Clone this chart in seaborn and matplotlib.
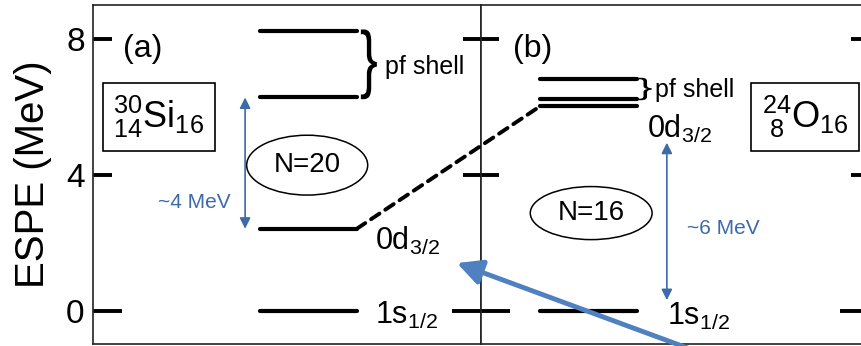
import matplotlib
matplotlib.use("Agg")
import matplotlib.pyplot as plt
from matplotlib.patches import Ellipse, ConnectionPatch, PathPatch
from matplotlib.textpath import TextPath
from matplotlib.font_manager import FontProperties
from matplotlib.transforms import Affine2D, ScaledTranslation
import pandas as pd
import seaborn as sns

# single-particle energies (MeV)
si_levels = [0.0, 2.42, 6.28, 8.23]        # 1s1/2, 0d3/2, pf, pf  (30Si)
o_levels = [0.0, 6.02, 6.25, 6.81]         # 1s1/2, 0d3/2, pf, pf  (24O)
si_span = (0.43, 0.68)
o_span = (0.152, 0.402)
yticks = [0, 4, 8]

blue_thin = "#3d6aa8"
blue_big = "#4f80c0"


def level_frame(levels, span):
    rows = []
    for i, e in enumerate(levels):
        rows.append({"x": span[0], "E": e, "lvl": i})
        rows.append({"x": span[1], "E": e, "lvl": i})
    return pd.DataFrame(rows)


def brace(ax, x, lo, hi, width_px):
    # stretched "}" glyph spanning the energies lo..hi
    tp = TextPath((0, 0), "}", size=1, prop=FontProperties(family="Liberation Sans"))
    bb = tp.get_extents()
    y0 = ax.transData.transform((0, lo))[1]
    y1 = ax.transData.transform((0, hi))[1]
    dpi = fig.dpi
    tr = (Affine2D().translate(-(bb.x0 + bb.x1) / 2, -(bb.y0 + bb.y1) / 2)
          .scale(width_px / dpi / bb.width, (y1 - y0) / dpi / bb.height)
          + fig.dpi_scale_trans
          + ScaledTranslation(x, (lo + hi) / 2, ax.transData))
    fig.add_artist(PathPatch(tp, transform=tr, fc="black", ec="none"))


sns.set_theme(style="ticks")
plt.rcParams["font.family"] = ["Liberation Sans", "DejaVu Sans"]
plt.rcParams["mathtext.fontset"] = "custom"
plt.rcParams["mathtext.rm"] = "Liberation Sans"
plt.rcParams["mathtext.it"] = "Liberation Sans:italic"
plt.rcParams["mathtext.bf"] = "Liberation Sans:bold"
plt.rcParams["text.color"] = "black"
plt.rcParams["axes.labelcolor"] = "black"
plt.rcParams["ytick.color"] = "black"
plt.rcParams["xtick.color"] = "black"

fig = plt.figure(figsize=(8.61, 3.46), dpi=100)
W, H = 861.0, 346.0
ax1 = fig.add_axes([93 / W, 2 / H, 388 / W, 339 / H])
ax2 = fig.add_axes([481 / W, 2 / H, 388 / W, 339 / H], sharey=ax1)

for ax, levels, span in [(ax1, si_levels, si_span), (ax2, o_levels, o_span)]:
    sns.lineplot(data=level_frame(levels, span), x="x", y="E", units="lvl",
                 estimator=None, color="black", lw=3, ax=ax, legend=False)
    ax.set_xlim(0, 1)
    ax.set_xticks([])
    ax.set_xlabel("")
    for s in ax.spines.values():
        s.set_linewidth(1.2)
        s.set_color("#222222")

ax1.set_ylim(-0.97, 9.0)
ax1.set_yticks(yticks)
ax1.tick_params(axis="y", direction="in", length=13.7, width=2.8, labelsize=24,
                pad=6, color="black")
ax1.set_ylabel("ESPE (MeV)", fontsize=29, labelpad=10)
ax2.set_ylabel("")
ax2.tick_params(axis="y", direction="inout", length=26.6, width=2.8,
                left=True, right=True, labelleft=False, color="black")

# labels, panel (a)
ax1.text(0.077, 7.7, "(a)", fontsize=23, va="center", ha="left")
ax1.text(0.17, 5.7, r"${}^{30}_{14}\mathrm{Si}_{16}$", fontsize=26,
         ha="center", va="center",
         bbox=dict(boxstyle="square,pad=0.3", fc="white", ec="black", lw=1.2))
ax1.add_patch(Ellipse((0.552, 4.29), 0.312, 1.76, fc="none", ec="black", lw=1.1))
ax1.text(0.552, 4.29, "N=20", fontsize=20, ha="center", va="center")
brace(ax1, 0.711, si_levels[2] - 0.05, si_levels[3] + 0.05, 16)
ax1.text(0.753, 7.18, "pf shell", fontsize=18, ha="left", va="center")
ax1.text(0.727, 1.79, r"0d$_{3/2}$", fontsize=22, ha="left", va="baseline")
ax1.text(0.727, -0.38, r"1s$_{1/2}$", fontsize=22, ha="left", va="baseline")
ax1.annotate("", xy=(0.392, si_levels[1]), xytext=(0.392, si_levels[2]),
             arrowprops=dict(arrowstyle="<|-|>", color=blue_thin, lw=1.2,
                             mutation_scale=16, shrinkA=0, shrinkB=0))
ax1.text(0.355, 3.18, "~4 MeV", fontsize=15, color=blue_thin,
         ha="right", va="center")

# labels, panel (b)
ax2.text(0.082, 7.7, "(b)", fontsize=23, va="center", ha="left")
ax2.text(0.835, 5.7, r"${}^{24}_{\ 8}\mathrm{O}_{16}$", fontsize=26,
         ha="center", va="center",
         bbox=dict(boxstyle="square,pad=0.3", fc="white", ec="black", lw=1.2))
ax2.add_patch(Ellipse((0.284, 2.88), 0.314, 1.56, fc="none", ec="black", lw=1.1))
ax2.text(0.284, 2.88, "N=16", fontsize=20, ha="center", va="center")
brace(ax2, 0.423, o_levels[2] - 0.05, o_levels[3] + 0.05, 13)
ax2.text(0.448, 6.5, "pf shell", fontsize=18, ha="left", va="center")
ax2.text(0.428, 5.09, r"0d$_{3/2}$", fontsize=22, ha="left", va="baseline")
ax2.text(0.479, -0.41, r"1s$_{1/2}$", fontsize=22, ha="left", va="baseline")
ax2.annotate("", xy=(0.479, 0.32), xytext=(0.479, 4.95),
             arrowprops=dict(arrowstyle="<|-|>", color=blue_thin, lw=1.2,
                             mutation_scale=16, shrinkA=0, shrinkB=0))
ax2.text(0.531, 2.44, "~6 MeV", fontsize=15, color=blue_thin,
         ha="left", va="center")

# dashed connection of the 0d3/2 levels
con = ConnectionPatch(xyA=(si_span[1], si_levels[1]), coordsA=ax1.transData,
                      xyB=(o_span[0], o_levels[1]), coordsB=ax2.transData,
                      color="black", lw=2.8, linestyle=(0, (2.6, 1.8)))
fig.add_artist(con)

# big blue arrow pointing to the 0d3/2 label
big = ax2.annotate("", xy=(0.938, 1.41), xycoords=ax1.transData,
                   xytext=(0.616, -1.44), textcoords=ax2.transData,
                   annotation_clip=False,
                   arrowprops=dict(arrowstyle="-|>,head_length=0.75,head_width=0.38",
                                   color=blue_big, lw=3.5, mutation_scale=20,
                                   shrinkA=0, shrinkB=0))
big.arrow_patch.set_clip_on(False)

# longer tick at zero (ticks are 0, 4, 8)
fig.canvas.draw()
ax1.yaxis.get_major_ticks()[0].tick1line.set_markersize(20.9)
t0 = ax2.yaxis.get_major_ticks()[0]
t0.tick1line.set_markersize(41.8)
t0.tick2line.set_markersize(41.8)

fig.savefig("out.png", dpi=100)
